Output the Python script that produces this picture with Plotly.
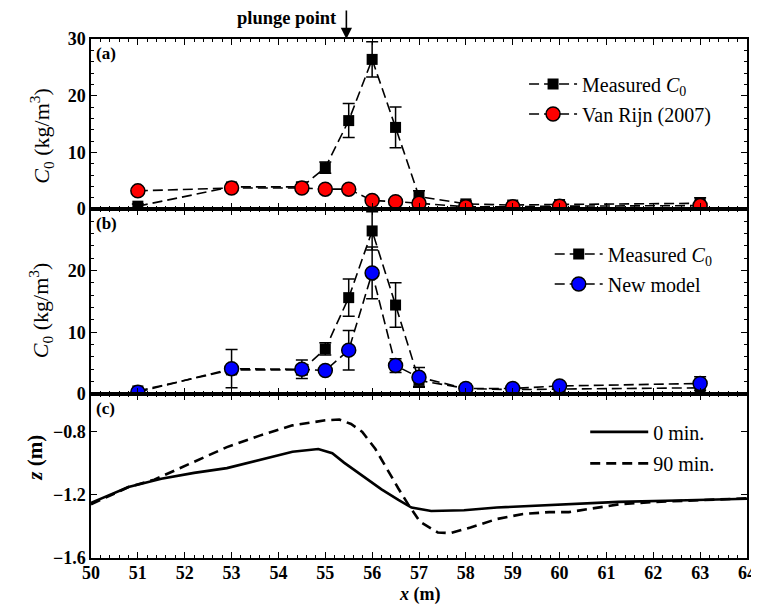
import plotly.graph_objects as go
from plotly.subplots import make_subplots

# ---------------- data ----------------
x_sta = [51, 53, 54.5, 55, 55.5, 56, 56.5, 57, 58, 59, 60, 63]
measured = [0.5, 3.9, 3.9, 7.3, 15.6, 26.4, 14.4, 2.2, 0.9, 0.7, 0.8, 1.0]
measured_err = [0.4, 0.6, 0.8, 1.0, 3.0, 3.1, 3.6, 1.0, 0.5, 0.4, 0.4, 1.0]
vanrijn = [3.2, 3.7, 3.7, 3.5, 3.5, 1.5, 1.3, 1.0, 0.4, 0.4, 0.5, 0.6]
vanrijn_err = [0.3, 0.3, 0.3, 0.3, 0.3, 0.3, 0.3, 0.3, 0.3, 0.3, 0.3, 0.3]
newmodel = [0.3, 4.1, 4.0, 3.8, 7.1, 19.6, 4.6, 2.7, 0.9, 0.9, 1.3, 1.7]
newmodel_err = [0.3, 3.1, 1.5, 0.3, 3.2, 4.2, 1.1, 1.6, 0.3, 0.3, 0.3, 1.1]

bed0_x = [50.0, 50.8, 51.5, 52.2, 52.9, 53.6, 54.3, 54.85, 55.15, 55.4, 55.86, 56.2,
          56.56, 56.84, 57.26, 57.96, 58.66, 59.2, 60.0, 61.26, 62.5, 64.0]
bed0_z = [-1.25, -1.15, -1.098, -1.06, -1.03, -0.98, -0.926, -0.909, -0.935, -0.995,
          -1.091, -1.165, -1.232, -1.28, -1.302, -1.297, -1.28, -1.273, -1.265, -1.244,
          -1.235, -1.224]
bed90_x = [50.0, 50.8, 51.35, 52.19, 52.9, 53.6, 54.3, 55.0, 55.3, 55.55, 55.79, 56.07,
           56.28, 56.56, 56.77, 57.02, 57.4, 57.68, 58.1, 58.66, 59.22, 59.78, 60.2,
           60.7, 61.26, 62.0, 63.0, 64.0]
bed90_z = [-1.26, -1.15, -1.103, -0.994, -0.897, -0.824, -0.759, -0.727, -0.722, -0.75,
           -0.80, -0.909, -1.018, -1.159, -1.26, -1.37, -1.438, -1.442, -1.406, -1.353,
           -1.321, -1.309, -1.309, -1.285, -1.26, -1.245, -1.232, -1.222]
plunge_x = 55.45

FONT = "Liberation Serif, Times New Roman, serif"
W, H = 759, 605
PL, PR, PT, PB = 83, 748, 31, 550          # plot area edges in px
HA, HB = 170, 185
HC = PB - PT - HA - HB
ZTOP, ZBOT = -0.56, -1.6

fig = make_subplots(rows=3, cols=1, shared_xaxes=True, vertical_spacing=0,
                    row_heights=[HA, HB, HC])


def err(arr):
    return dict(type="data", array=arr, visible=True, color="black",
                thickness=1.5, width=6)


dash_c = "10px,5px"
meas_name = "Measured <i>C</i><sub>0</sub>"
fig.add_trace(go.Scatter(x=x_sta, y=measured, error_y=err(measured_err),
                         mode="lines+markers", name=meas_name, showlegend=True,
                         line=dict(color="black", width=1.6, dash=dash_c),
                         marker=dict(symbol="square", size=11, color="black"),
                         legend="legend"), row=1, col=1)
fig.add_trace(go.Scatter(x=x_sta, y=vanrijn, error_y=err(vanrijn_err),
                         mode="lines+markers", name="Van Rijn (2007)", showlegend=True,
                         line=dict(color="black", width=1.6, dash=dash_c),
                         marker=dict(symbol="circle", size=14, color="#ff0000",
                                     line=dict(color="black", width=1.5)),
                         legend="legend2"), row=1, col=1)
fig.add_trace(go.Scatter(x=x_sta, y=measured, error_y=err(measured_err),
                         mode="lines+markers", name=meas_name, showlegend=True,
                         line=dict(color="black", width=1.6, dash=dash_c),
                         marker=dict(symbol="square", size=11, color="black"),
                         legend="legend3"), row=2, col=1)
fig.add_trace(go.Scatter(x=x_sta, y=newmodel, error_y=err(newmodel_err),
                         mode="lines+markers", name="New model", showlegend=True,
                         line=dict(color="black", width=1.6, dash=dash_c),
                         marker=dict(symbol="circle", size=14, color="#0000ff",
                                     line=dict(color="black", width=1.5)),
                         legend="legend4"), row=2, col=1)
fig.add_trace(go.Scatter(x=bed0_x, y=bed0_z, mode="lines", name="0 min.", showlegend=True,
                         line=dict(color="black", width=2.6),
                         legend="legend5"), row=3, col=1)
fig.add_trace(go.Scatter(x=bed90_x, y=bed90_z, mode="lines", name="90 min.", showlegend=True,
                         line=dict(color="black", width=2.6, dash="10px,6px"),
                         legend="legend6"), row=3, col=1)

tickfont = dict(family=FONT, size=18, color="black", weight="bold")
common = dict(showline=True, linecolor="black", linewidth=1.5, mirror="allticks",
              ticks="inside", ticklen=6, tickwidth=1.3, tickcolor="black",
              showgrid=False, zeroline=False, tickfont=tickfont)

for r in (1, 2, 3):
    fig.update_xaxes(range=[50, 64], dtick=1, tick0=50,
                     minor=dict(ticks="inside", ticklen=3, dtick=0.2, tickcolor="black",
                                tickwidth=1, showgrid=False),
                     **common, row=r, col=1)
fig.update_xaxes(ticklabelstandoff=-2, row=3, col=1)

fig.update_yaxes(range=[0, 30], dtick=10, tick0=0,
                 minor=dict(ticks="inside", ticklen=3, dtick=2, tickcolor="black", tickwidth=1),
                 **common, row=1, col=1)
fig.update_yaxes(range=[0, 29.95], dtick=10, tick0=0,
                 minor=dict(ticks="inside", ticklen=3, dtick=2, tickcolor="black", tickwidth=1),
                 **common, row=2, col=1)
fig.update_yaxes(range=[ZBOT, ZTOP], dtick=0.4, tick0=-1.6, **common, row=3, col=1)


def px2x(px):
    return (px - PL) / (PR - PL)


def px2y(py):
    return (PB - py) / (PB - PT)


def zpx(z):
    return PT + HA + HB + (ZTOP - z) / (ZTOP - ZBOT) * HC


legfont = dict(family=FONT, size=20, color="black")


def leg(xleft, ycen, iw=48):
    return dict(x=px2x(xleft), y=px2y(ycen), xanchor="left", yanchor="middle",
                bgcolor="rgba(0,0,0,0)", font=legfont, itemwidth=iw,
                borderwidth=0, visible=True)


fig.update_layout(
    width=W, height=H, showlegend=True,
    margin=dict(l=PL, r=W - PR, t=PT, b=H - PB),
    paper_bgcolor="white", plot_bgcolor="white",
    font=dict(family=FONT, color="black", size=16),
    legend=leg(522, PT + 45), legend2=leg(522, PT + 75),
    legend3=leg(548, PT + HA + 45), legend4=leg(548, PT + HA + 75),
    legend5=leg(584, zpx(-0.8), 58), legend6=leg(584, zpx(-1.0), 58),
)

# axis titles
ctitle = "<i>C</i><sub>0</sub> (kg/m<sup>3</sup>)"
for txt, yc, xc, bold, fs in ((ctitle, PT + HA / 2 + 12, 32, "normal", 22),
                              (ctitle, PT + HA + HB / 2 + 9, 32, "normal", 22),
                              ("<i>z</i> (m)", 450, 26, "bold", 21)):
    fig.add_annotation(text=txt, xref="paper", yref="paper", x=px2x(xc), y=px2y(yc),
                       xanchor="center", yanchor="middle", textangle=-90, showarrow=False,
                       font=dict(family=FONT, size=fs, color="black", weight=bold))
fig.add_annotation(text="<i>x</i> (m)", xref="paper", yref="paper", x=0.5, y=px2y(586),
                   xanchor="center", yanchor="middle", showarrow=False, borderpad=0,
                   font=dict(family=FONT, size=18, color="black", weight="bold"))

# panel labels
for lab, yr in (("(a)", "y"), ("(b)", "y2"), ("(c)", "y3")):
    fig.add_annotation(text=lab, xref="x domain", yref=yr + " domain", x=0, y=1,
                       xanchor="left", yanchor="top", xshift=3, yshift=-3, showarrow=False,
                       font=dict(family=FONT, size=17, color="black", weight="bold"))

# plunge point arrow
fig.add_annotation(x=plunge_x, y=1, xref="x", yref="y domain", text="", showarrow=True,
                   ax=0, ay=-30, arrowhead=2, arrowsize=1.4, arrowwidth=1.6,
                   arrowcolor="black", font=dict(size=12))
fig.add_annotation(x=plunge_x, y=px2y(10), xref="x", yref="paper", text="plunge point",
                   showarrow=False, xanchor="right", yanchor="middle", xshift=-7,
                   font=dict(family=FONT, size=18.5, color="black", weight="bold"))

fig.write_html("out.html")
